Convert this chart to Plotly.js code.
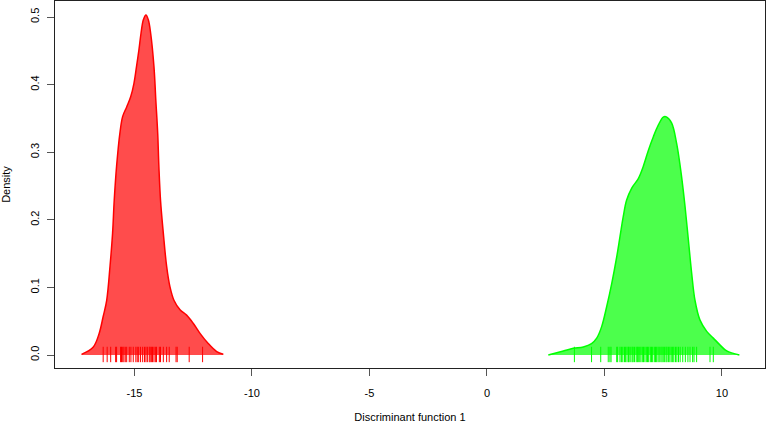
<!DOCTYPE html>
<html>
<head>
<meta charset="utf-8">
<script src="https://cdn.plot.ly/plotly-3.0.1.min.js"></script>
<style>html,body{margin:0;padding:0;background:#fff;}#chart{width:767px;height:423px;}</style>
</head>
<body>
<div id="chart"></div>
<script>
// Density curve of group 1 (red)
var redX = [-17.25,-16.75,-16.50,-16.33,-16.18,-16.04,-15.93,-15.86,-15.76,-15.62,-15.50,-15.33,-15.16,-15.02,-14.91,-14.81,-14.72,-14.62,-14.51,-14.41,-14.31,-14.17,-14.09,-14.01,-13.96,-13.89,-13.77,-13.63,-13.49,-13.32,-13.06,-12.78,-12.50,-12.21,-11.86,-11.50,-11.22];
var redY = [0.001,0.012,0.032,0.057,0.081,0.131,0.180,0.229,0.279,0.328,0.353,0.367,0.382,0.402,0.427,0.451,0.476,0.496,0.503,0.496,0.476,0.427,0.377,0.328,0.279,0.229,0.180,0.131,0.101,0.081,0.067,0.059,0.047,0.032,0.017,0.005,0.001];
// Density curve of group 2 (green)
var greenX = [2.61,3.25,3.67,4.10,4.45,4.67,4.88,5.09,5.31,5.52,5.66,5.80,5.94,6.16,6.44,6.65,6.87,7.08,7.29,7.50,7.65,7.86,8.07,8.28,8.43,8.57,8.71,8.85,9.06,9.35,9.63,9.91,10.20,10.74];
var greenY = [0.000,0.006,0.010,0.012,0.017,0.025,0.042,0.071,0.106,0.145,0.175,0.205,0.229,0.247,0.261,0.279,0.303,0.323,0.340,0.352,0.352,0.343,0.313,0.264,0.219,0.170,0.121,0.081,0.052,0.035,0.025,0.015,0.006,0.000];
// Rug observations
var redRug = [-16.33,-16.16,-16.01,-15.80,-15.76,-15.59,-15.55,-15.50,-15.45,-15.39,-15.33,-15.22,-15.15,-15.05,-14.94,-14.88,-14.82,-14.74,-14.65,-14.57,-14.51,-14.45,-14.37,-14.33,-14.28,-14.23,-14.17,-14.11,-14.06,-13.94,-13.89,-13.77,-13.63,-13.52,-13.23,-13.18,-12.67,-12.10];
var greenRug = [3.72,4.45,4.84,5.16,5.23,5.28,5.52,5.56,5.66,5.72,5.78,5.85,5.90,5.96,6.02,6.05,6.12,6.18,6.22,6.28,6.35,6.40,6.44,6.50,6.55,6.61,6.66,6.72,6.78,6.83,6.88,6.95,7.00,7.05,7.12,7.17,7.22,7.28,7.33,7.40,7.45,7.50,7.56,7.62,7.66,7.72,7.78,7.84,7.90,7.95,8.02,8.08,8.15,8.22,8.33,8.44,8.55,8.64,8.75,8.81,8.92,9.49,9.63];
var xTicks = [-15,-10,-5,0,5,10];
var yTicks = [0,0.1,0.2,0.3,0.4,0.5];

var RED = 'rgb(255,0,0)', GREEN = 'rgb(0,255,0)';
function rugY(a){ return a.map(function(){ return 0.0008; }); }

var traces = [
  {x: redX, y: redY, type:'scatter', mode:'lines', fill:'tozeroy',
   fillcolor:'rgba(255,0,0,0.7)', line:{color:RED, width:1.5, shape:'spline', smoothing:1}, hoverinfo:'skip'},
  {x: greenX, y: greenY, type:'scatter', mode:'lines', fill:'tozeroy',
   fillcolor:'rgba(0,255,0,0.7)', line:{color:GREEN, width:1.5, shape:'spline', smoothing:1}, hoverinfo:'skip'},
  {x: redRug, y: rugY(redRug), type:'scatter', mode:'markers',
   marker:{symbol:'line-ns-open', size:11, color:RED, line:{color:RED, width:1}}, hoverinfo:'skip'},
  {x: greenRug, y: rugY(greenRug), type:'scatter', mode:'markers',
   marker:{symbol:'line-ns-open', size:11, color:GREEN, line:{color:GREEN, width:1}}, hoverinfo:'skip'}
];

var layout = {
  width:767, height:423,
  margin:{l:55, r:2, t:1, b:55},
  paper_bgcolor:'#fff', plot_bgcolor:'#fff',
  showlegend:false,
  font:{family:'"Liberation Sans", Arial, sans-serif', size:11, color:'#000'},
  xaxis:{range:[-18.38,11.83], tickvals:xTicks, ticktext:xTicks.map(String),
    ticks:'outside', ticklen:7, tickcolor:'#555', tickwidth:1, ticklabelstandoff:8,
    showline:true, mirror:true, linecolor:'#222', linewidth:1,
    showgrid:false, zeroline:false,
    title:{text:'Discriminant function 1', font:{size:11}, standoff:23}},
  yaxis:{range:[-0.0192,0.5237], tickvals:yTicks, ticktext:yTicks.map(function(v){return v.toFixed(1);}),
    tickangle:-90, ticks:'outside', ticklen:7, tickcolor:'#555', tickwidth:1, ticklabelstandoff:4,
    showline:true, mirror:true, linecolor:'#222', linewidth:1,
    showgrid:false, zeroline:false,
    title:{text:'Density', font:{size:11}, standoff:18}}
};
Plotly.newPlot('chart', traces, layout, {displayModeBar:false, staticPlot:true});
</script>
</body>
</html>
